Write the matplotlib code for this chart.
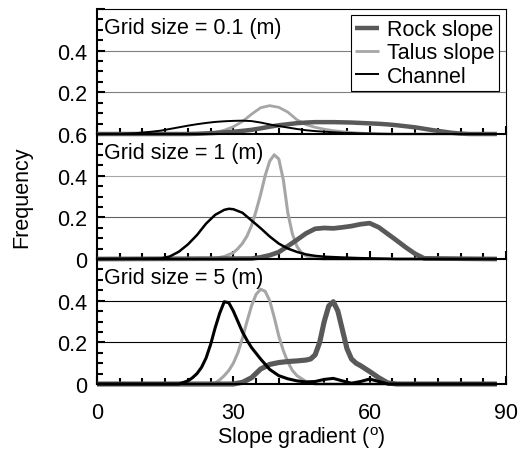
import numpy as np
import matplotlib
matplotlib.use("Agg")
import matplotlib.pyplot as plt
from matplotlib.ticker import MultipleLocator

plt.rcParams['font.family'] = ['Liberation Sans', 'DejaVu Sans']
plt.rcParams['mathtext.fontset'] = 'custom'
plt.rcParams['mathtext.rm'] = 'Liberation Sans'
plt.rcParams['font.size'] = 15.5

# Frequencias, un panel por tamano de grilla
grid_labels = ['Grid size = 0.1 (m)', 'Grid size = 1 (m)', 'Grid size = 5 (m)']
series_names = ['Rock slope', 'Talus slope', 'Channel']

# Grid 0.1 m
rock_01_x = [0, 20, 22, 24, 26, 28, 30, 32, 34, 36, 38, 40, 42, 44, 46, 48, 50, 52, 54, 56, 58, 60,
             62, 64, 66, 68, 70, 72, 74, 76, 78, 80, 82, 88]
rock_01_y = [0, 0, 0.001, 0.003, 0.005, 0.008, 0.011, 0.015, 0.02, 0.027, 0.035, 0.042, 0.047, 0.052,
             0.055, 0.057, 0.057, 0.057, 0.056, 0.055, 0.053, 0.051, 0.049, 0.046, 0.042, 0.037, 0.032,
             0.025, 0.018, 0.012, 0.006, 0.002, 0, 0]
talus_01_x = [0, 22, 24, 26, 28, 30, 32, 34, 36, 38, 40, 42, 44, 46, 48, 50, 52, 54, 56, 58, 60, 62, 64, 88]
talus_01_y = [0, 0, 0.003, 0.008, 0.018, 0.035, 0.06, 0.095, 0.126, 0.136, 0.128, 0.105, 0.068, 0.045,
              0.032, 0.023, 0.016, 0.011, 0.007, 0.004, 0.002, 0.001, 0, 0]
chan_01_x = [0, 6, 8, 10, 12, 14, 16, 18, 20, 22, 24, 26, 28, 30, 32, 34, 36, 38, 40, 42, 44, 46, 48,
             50, 54, 58, 62, 66, 88]
chan_01_y = [0, 0.001, 0.003, 0.007, 0.011, 0.016, 0.024, 0.032, 0.04, 0.047, 0.053, 0.058, 0.061,
             0.063, 0.064, 0.062, 0.055, 0.046, 0.038, 0.031, 0.024, 0.018, 0.014, 0.011, 0.006, 0.003,
             0.001, 0, 0]

# Grid 1 m
rock_1_x = [0, 34, 36, 38, 40, 42, 44, 46, 48, 50, 52, 54, 56, 58, 60, 62, 64, 66, 68, 70, 72, 88]
rock_1_y = [0, 0.002, 0.008, 0.018, 0.033, 0.062, 0.092, 0.123, 0.145, 0.149, 0.147, 0.152, 0.158,
            0.167, 0.172, 0.152, 0.12, 0.088, 0.055, 0.025, 0.003, 0]
talus_1_x = [0, 26, 28, 30, 31, 32, 33, 34, 35, 36, 37, 38, 39, 40, 41, 42, 43, 44, 45, 46, 48, 50, 88]
talus_1_y = [0, 0.003, 0.012, 0.03, 0.05, 0.075, 0.11, 0.16, 0.23, 0.31, 0.40, 0.47, 0.50, 0.48, 0.38,
             0.22, 0.12, 0.06, 0.03, 0.015, 0.003, 0, 0]
chan_1_x = [0, 14, 16, 18, 20, 22, 24, 26, 28, 29, 30, 32, 34, 36, 38, 40, 42, 44, 46, 48, 50, 54, 58,
            62, 66, 88]
chan_1_y = [0, 0.002, 0.012, 0.035, 0.07, 0.115, 0.17, 0.212, 0.236, 0.241, 0.239, 0.222, 0.185,
            0.148, 0.108, 0.074, 0.05, 0.034, 0.022, 0.015, 0.011, 0.007, 0.004, 0.002, 0, 0]

# Grid 5 m
rock_5_x = [0, 30, 32, 34, 36, 38, 40, 42, 44, 46, 47, 48, 49, 50, 51, 52, 53, 54, 55, 56, 57, 58, 60,
            62, 64, 66, 88]
rock_5_y = [0, 0, 0.008, 0.03, 0.072, 0.094, 0.103, 0.108, 0.111, 0.115, 0.12, 0.14, 0.2, 0.3, 0.375,
            0.395, 0.35, 0.26, 0.17, 0.12, 0.1, 0.088, 0.06, 0.03, 0.005, 0, 0]
talus_5_x = [0, 24, 26, 27, 28, 29, 30, 31, 32, 33, 34, 35, 36, 37, 38, 39, 40, 41, 42, 43, 44, 46, 48, 88]
talus_5_y = [0, 0, 0.005, 0.02, 0.04, 0.065, 0.1, 0.15, 0.22, 0.3, 0.375, 0.43, 0.455, 0.445, 0.4,
             0.32, 0.23, 0.16, 0.105, 0.065, 0.04, 0.012, 0, 0]
chan_5_x = [0, 18, 20, 21, 22, 23, 24, 25, 26, 27, 28, 29, 30, 31, 32, 33, 34, 36, 38, 40, 42, 44, 46,
            48, 50, 52, 54, 56, 58, 60, 62, 64, 88]
chan_5_y = [0, 0, 0.015, 0.03, 0.05, 0.08, 0.125, 0.19, 0.27, 0.34, 0.395, 0.39, 0.35, 0.3, 0.25, 0.21,
            0.175, 0.12, 0.07, 0.04, 0.025, 0.015, 0.01, 0.012, 0.022, 0.027, 0.015, 0.004, 0.012,
            0.024, 0.012, 0, 0]

paneles = [
    [(rock_01_x, rock_01_y), (talus_01_x, talus_01_y), (chan_01_x, chan_01_y)],
    [(rock_1_x, rock_1_y), (talus_1_x, talus_1_y), (chan_1_x, chan_1_y)],
    [(rock_5_x, rock_5_y), (talus_5_x, talus_5_y), (chan_5_x, chan_5_y)],
]

# etiquetas del eje y de cada panel (el de arriba no repite el 0 ni el 0.6)
ytick_labels = [['', '0.2', '0.4', ''], ['0', '0.2', '0.4', '0.6'], ['0', '0.2', '0.4', '']]
x_ticks = [0, 30, 60, 90]

colores = ['#595959', '#a6a6a6', '#000000']
anchos = [[3.2, 2.0, 1.4], [3.4, 2.2, 1.8], [3.7, 2.2, 2.2]]
zorders = [4, 3, 5]
grid_colores = [['#7f7f7f', '#7f7f7f'], ['#606060', '#a6a6a6'], ['#000000', '#000000']]

fig, axes = plt.subplots(3, 1, figsize=(5.23, 4.52), dpi=100, sharex=True)
fig.subplots_adjust(left=0.1855, right=0.9675, bottom=0.1482, top=0.9779, hspace=0)

for i, ax in enumerate(axes):
    for j, (xs, ys) in enumerate(paneles[i]):
        ax.plot(xs, ys, color=colores[j], lw=anchos[i][j], zorder=zorders[j],
                solid_capstyle='butt', clip_on=False, label=series_names[j])
    ax.set_xlim(0, 90)
    ax.set_ylim(0, 0.6)
    ax.set_yticks([0, 0.2, 0.4, 0.6], labels=ytick_labels[i])
    ax.yaxis.set_minor_locator(MultipleLocator(0.05))
    ax.set_xticks(x_ticks)
    ax.xaxis.set_minor_locator(MultipleLocator(5))
    ax.tick_params(axis='y', which='major', direction='in', length=6, width=1.5, pad=7)
    ax.tick_params(axis='y', which='minor', direction='in', length=4, width=1.5)
    ax.tick_params(axis='x', which='major', direction='in', length=6, width=1.5, pad=13)
    ax.tick_params(axis='x', which='minor', direction='in', length=4, width=1.5)
    ax.spines['left'].set_linewidth(1.5)
    ax.spines['bottom'].set_linewidth(1.5)
    ax.spines['bottom'].set_zorder(6)
    ax.spines['right'].set_linewidth(0.8)
    ax.spines['top'].set_linewidth(0.8)
    if i > 0:
        ax.spines['top'].set_visible(False)
    for k, yv in enumerate([0.2, 0.4]):
        ax.axhline(yv, color=grid_colores[i][k], lw=0.8, zorder=1)
    ax.text(1.5, 0.51, grid_labels[i], ha='left', va='center')
    ax.patch.set_alpha(0)

axes[0].legend(loc='upper right', bbox_to_anchor=(0.983, 0.952), borderaxespad=0,
               fancybox=False, edgecolor='black', framealpha=1, handlelength=1.1,
               handletextpad=0.4, labelspacing=0.1, borderpad=0.2).get_frame().set_linewidth(0.8)

axes[2].set_xlabel('Slope gradient ($^{\\mathrm{o}}$)', labelpad=1)
fig.text(0.042, 0.563, 'Frequency', rotation=90, ha='center', va='center')

plt.savefig('out.png', dpi=100)
